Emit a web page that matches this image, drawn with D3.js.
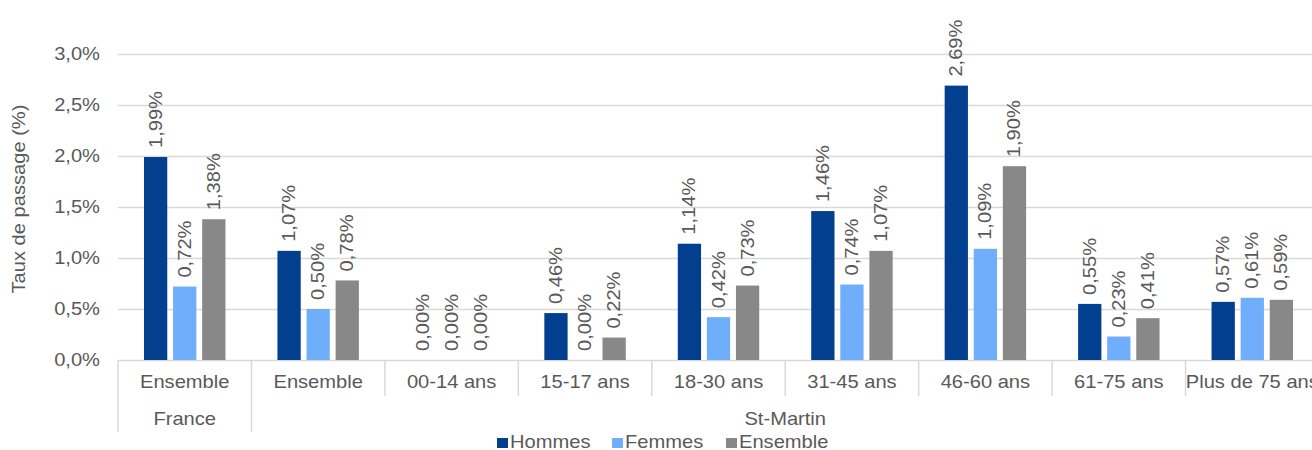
<!DOCTYPE html>
<html lang="fr">
<head>
<meta charset="utf-8">
<script src="https://cdn.jsdelivr.net/npm/d3@7"></script>
<style>
  html, body { margin: 0; padding: 0; background: #ffffff; }
  svg { display: block; }
  text { font-family: "Liberation Sans", Arial, sans-serif; fill: #595959; }
</style>
</head>
<body>
<svg id="chart" width="1312" height="450"></svg>
<script>
// Taux de passage par sexe et tranche d'âge
const categories = ["Ensemble", "Ensemble", "00-14 ans", "15-17 ans", "18-30 ans", "31-45 ans", "46-60 ans", "61-75 ans", "Plus de 75 ans"];
const groups = [
  { label: "France", from: 0, to: 0 },
  { label: "St-Martin", from: 1, to: 8 }
];
const seriesNames = ["Hommes", "Femmes", "Ensemble"];
const hommes   = [1.99, 1.07, 0.00, 0.46, 1.14, 1.46, 2.69, 0.55, 0.57];
const femmes   = [0.72, 0.50, 0.00, 0.00, 0.42, 0.74, 1.09, 0.23, 0.61];
const ensemble = [1.38, 0.78, 0.00, 0.22, 0.73, 1.07, 1.90, 0.41, 0.59];
const yTicks = [0, 0.5, 1.0, 1.5, 2.0, 2.5, 3.0];
const colors = ["#023f8e", "#6eaefb", "#888888"];

const seriesValues = [hommes, femmes, ensemble];
const svg = d3.select("#chart");

const plot = { left: 118, right: 1319, top: 54, bottom: 360 };
const fontSize = 17.5;
const stretch = 1.15; // slightly wide lettering
const fmt = v => v.toFixed(2).replace(".", ",") + "%";
const fmtTick = v => v.toFixed(1).replace(".", ",") + "%";

// Text helper: places a label at (px,py), optionally rotated, widened along its direction
function label(parent, px, py, str, anchor, rotate) {
  return parent.append("text")
    .attr("transform", `translate(${px},${py})${rotate ? ` rotate(${rotate})` : ""} scale(${stretch},1)`)
    .attr("text-anchor", anchor)
    .style("font-size", fontSize + "px")
    .text(str);
}

const x = d3.scaleBand()
  .domain(d3.range(categories.length))
  .range([plot.left, plot.right])
  .paddingInner(0).paddingOuter(0);
const bw = x.bandwidth();

const xs = d3.scaleBand()
  .domain(seriesNames)
  .range([26, bw - 26])
  .paddingInner(0.2).paddingOuter(0);

const y = d3.scaleLinear().domain([0, 3.0]).range([plot.bottom, plot.top]);

// Horizontal gridlines
const yAxis = d3.axisLeft(y)
  .tickValues(yTicks)
  .tickFormat("")
  .tickSize(-(plot.right - plot.left));

const gy = svg.append("g")
  .attr("transform", `translate(${plot.left},0)`)
  .call(yAxis);
gy.select(".domain").remove();
gy.selectAll(".tick line").attr("stroke", "#d9d9d9").attr("stroke-width", 1.5);

// Value axis labels
const gyl = svg.append("g");
yTicks.forEach(t => label(gyl, 100, y(t) + 6, fmtTick(t), "end"));

// Axis title
label(svg, 25, 199, "Taux de passage (%)", "middle", -90);

// Bars
const barData = [];
seriesValues.forEach((vals, si) => {
  vals.forEach((v, ci) => barData.push({ ci, si, v }));
});

svg.append("g").selectAll("rect")
  .data(barData)
  .join("rect")
  .attr("x", d => x(d.ci) + xs(seriesNames[d.si]))
  .attr("width", xs.bandwidth())
  .attr("y", d => y(d.v))
  .attr("height", d => y(0) - y(d.v))
  .attr("fill", d => colors[d.si]);

// Value labels, rotated above each bar
const gl = svg.append("g");
barData.forEach(d => {
  const cx = x(d.ci) + xs(seriesNames[d.si]) + xs.bandwidth() / 2;
  label(gl, cx + 6, y(d.v) - 9, fmt(d.v), "start", -90);
});

// Category axis: separators and labels
const row1 = 396, row2 = 432;
const gx = svg.append("g");
const groupEdges = new Set();
groups.forEach(g => { groupEdges.add(g.from); groupEdges.add(g.to + 1); });

d3.range(categories.length + 1).forEach(i => {
  const xp = i < categories.length ? x(i) : plot.right;
  gx.append("line")
    .attr("x1", xp).attr("x2", xp)
    .attr("y1", plot.bottom).attr("y2", groupEdges.has(i) ? row2 : row1)
    .attr("stroke", "#d9d9d9").attr("stroke-width", 1.5);
});

categories.forEach((c, i) => label(gx, x(i) + bw / 2, 388, c, "middle"));

groups.forEach(g => {
  const x0 = x(g.from);
  const x1 = g.to + 1 < categories.length ? x(g.to + 1) : plot.right;
  label(gx, (x0 + x1) / 2, 425, g.label, "middle");
});

// Legend
const legendX = [497, 612, 726];
const leg = svg.append("g");
seriesNames.forEach((name, i) => {
  leg.append("rect")
    .attr("x", legendX[i]).attr("y", 438)
    .attr("width", 11).attr("height", 10)
    .attr("fill", colors[i]);
  label(leg, legendX[i] + 13, 448, name, "start");
});
</script>
</body>
</html>
